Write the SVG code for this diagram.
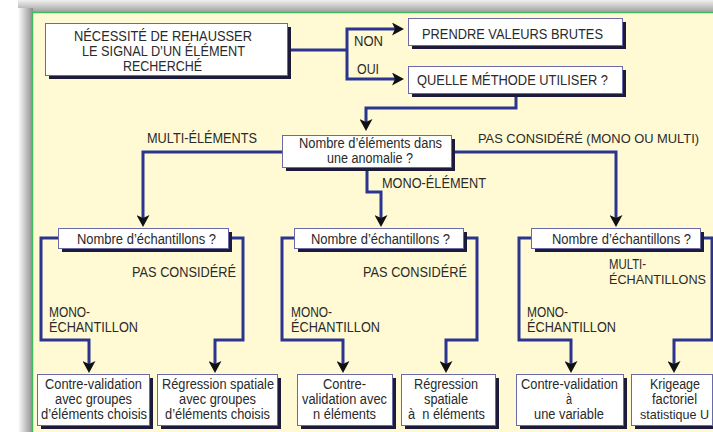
<svg xmlns="http://www.w3.org/2000/svg" width="713" height="432" viewBox="0 0 713 432">
<defs>
<linearGradient id="gl" x1="0" y1="0" x2="1" y2="0"><stop offset="0" stop-color="#ffffff"/><stop offset="1" stop-color="#8c8c8c"/></linearGradient>
<linearGradient id="gt" x1="0" y1="0" x2="0" y2="1"><stop offset="0" stop-color="#f0f0f0"/><stop offset="1" stop-color="#9a9a9a"/></linearGradient>
<marker id="ah" viewBox="0 0 12 13" refX="4" refY="6.5" markerWidth="12" markerHeight="13" markerUnits="userSpaceOnUse" orient="auto">
<path d="M0,0 L12,6.5 L0,13 L3,6.5 z" fill="#111"/>
</marker>
<style>
.t{font-family:"Liberation Sans",Arial,sans-serif;font-size:14px;fill:#2a2a2a;}
.s{fill:#1c1c3a;}
.b{fill:#fff;stroke:#6a6aaa;stroke-width:1;}
.c{fill:none;stroke:#2b3590;stroke-width:3;stroke-linejoin:miter;}
.a{marker-end:url(#ah);}
</style>
</defs>
<rect x="0" y="0" width="713" height="432" fill="#fff"/>
<rect x="18" y="0" width="695" height="13" fill="url(#gt)"/>
<rect x="18" y="8" width="15" height="424" fill="url(#gl)"/>
<rect x="32.5" y="12.5" width="690" height="430" fill="#fffad4" stroke="#3dbb5d" stroke-width="1.5"/>

<g id="connectors">
<path class="c" d="M287,50 H347"/>
<path class="c a" d="M347,50 V29 H396"/>
<path class="c a" d="M347,50 V79 H396"/>
<path class="c a" d="M516,93 V108 H366 V123"/>
<path class="c a" d="M282,152 H143 V219"/>
<path class="c a" d="M451,152 H616 V219"/>
<path class="c a" d="M367,167 V192 H381 V219"/>
<path class="c a" d="M58,238 H41 V340 H89 V365"/>
<path class="c a" d="M228,238 H243 V340 H215 V365"/>
<path class="c a" d="M294,238 H282 V340 H343 V365"/>
<path class="c a" d="M463,238 H477 V340 H446 V365"/>
<path class="c a" d="M531,238 H519 V340 H571 V365"/>
<path class="c a" d="M700,238 H712 V340 H674 V365"/>
</g>

<g id="labels">
<text class="t" x="354" y="46" textLength="29" lengthAdjust="spacingAndGlyphs">NON</text>
<text class="t" x="357" y="74" textLength="22" lengthAdjust="spacingAndGlyphs">OUI</text>
<text class="t" x="147" y="143" textLength="110" lengthAdjust="spacingAndGlyphs">MULTI-ÉLÉMENTS</text>
<text class="t" x="478" y="143" style="font-size:13.2px" textLength="221" lengthAdjust="spacingAndGlyphs">PAS CONSIDÉRÉ (MONO OU MULTI)</text>
<text class="t" x="382" y="188" textLength="104" lengthAdjust="spacingAndGlyphs">MONO-ÉLÉMENT</text>
<text class="t" x="132" y="277" textLength="104" lengthAdjust="spacingAndGlyphs">PAS CONSIDÉRÉ</text>
<text class="t" x="363" y="277" textLength="104" lengthAdjust="spacingAndGlyphs">PAS CONSIDÉRÉ</text>
<text class="t" x="49" y="317" textLength="41" lengthAdjust="spacingAndGlyphs">MONO-</text>
<text class="t" x="49" y="332" textLength="89" lengthAdjust="spacingAndGlyphs">ÉCHANTILLON</text>
<text class="t" x="291" y="317" textLength="41" lengthAdjust="spacingAndGlyphs">MONO-</text>
<text class="t" x="291" y="332" textLength="89" lengthAdjust="spacingAndGlyphs">ÉCHANTILLON</text>
<text class="t" x="527" y="317" textLength="41" lengthAdjust="spacingAndGlyphs">MONO-</text>
<text class="t" x="527" y="332" textLength="89" lengthAdjust="spacingAndGlyphs">ÉCHANTILLON</text>
<text class="t" x="609" y="269" textLength="37" lengthAdjust="spacingAndGlyphs">MULTI-</text>
<text class="t" x="609" y="284" style="font-size:13px" textLength="97" lengthAdjust="spacingAndGlyphs">ÉCHANTILLONS</text>
</g>

<g id="n-start">
<rect class="s" x="49" y="27" width="242" height="52"/>
<rect class="b" x="45.5" y="23.5" width="242" height="52"/>
<text class="t" x="74" y="41" textLength="178" lengthAdjust="spacingAndGlyphs">NÉCESSITÉ DE REHAUSSER</text>
<text class="t" x="82" y="55.5" textLength="163" lengthAdjust="spacingAndGlyphs">LE SIGNAL D’UN ÉLÉMENT</text>
<text class="t" x="123" y="70.5" textLength="79" lengthAdjust="spacingAndGlyphs">RECHERCHÉ</text>
</g>

<g id="n-brutes">
<rect class="s" x="412" y="22" width="214" height="27"/>
<rect class="b" x="408.5" y="18.5" width="214" height="27"/>
<text class="t" x="422" y="39" textLength="181" lengthAdjust="spacingAndGlyphs">PRENDRE VALEURS BRUTES</text>
</g>

<g id="n-methode">
<rect class="s" x="412" y="70" width="214" height="27"/>
<rect class="b" x="408.5" y="66.5" width="214" height="27"/>
<text class="t" x="417" y="84.5" textLength="191" lengthAdjust="spacingAndGlyphs">QUELLE MÉTHODE UTILISER ?</text>
</g>

<g id="n-elements">
<rect class="s" x="286" y="139" width="169" height="32"/>
<rect class="b" x="282.5" y="135.5" width="169" height="32"/>
<text class="t" x="299" y="148" textLength="143" lengthAdjust="spacingAndGlyphs">Nombre d’éléments dans</text>
<text class="t" x="327" y="163" textLength="86" lengthAdjust="spacingAndGlyphs">une anomalie ?</text>
</g>

<g id="n-ech-multi">
<rect class="s" x="62" y="232" width="170" height="20"/>
<rect class="b" x="58.5" y="228.5" width="170" height="20"/>
<text class="t" x="77" y="244" textLength="139" lengthAdjust="spacingAndGlyphs">Nombre d’échantillons ?</text>
</g>

<g id="n-ech-mono">
<rect class="s" x="298" y="232" width="169" height="20"/>
<rect class="b" x="294.5" y="228.5" width="169" height="20"/>
<text class="t" x="311" y="244" textLength="139" lengthAdjust="spacingAndGlyphs">Nombre d’échantillons ?</text>
</g>

<g id="n-ech-pas">
<rect class="s" x="535" y="232" width="169" height="20"/>
<rect class="b" x="531.5" y="228.5" width="169" height="20"/>
<text class="t" x="552" y="244" textLength="139" lengthAdjust="spacingAndGlyphs">Nombre d’échantillons ?</text>
</g>

<g id="n-r1">
<rect class="s" x="41" y="378" width="112" height="51"/>
<rect class="b" x="37.5" y="374.5" width="112" height="51"/>
<text class="t" x="45" y="389" textLength="97" lengthAdjust="spacingAndGlyphs">Contre-validation</text>
<text class="t" x="55" y="404" textLength="77" lengthAdjust="spacingAndGlyphs">avec groupes</text>
<text class="t" x="41" y="419" textLength="106" lengthAdjust="spacingAndGlyphs">d’éléments choisis</text>
</g>

<g id="n-r2">
<rect class="s" x="161" y="378" width="120" height="51"/>
<rect class="b" x="157.5" y="374.5" width="120" height="51"/>
<text class="t" x="162" y="389" textLength="112" lengthAdjust="spacingAndGlyphs">Régression spatiale</text>
<text class="t" x="179" y="404" textLength="77" lengthAdjust="spacingAndGlyphs">avec groupes</text>
<text class="t" x="165" y="419" textLength="105" lengthAdjust="spacingAndGlyphs">d’éléments choisis</text>
</g>

<g id="n-r3">
<rect class="s" x="301" y="378" width="95" height="51"/>
<rect class="b" x="297.5" y="374.5" width="95" height="51"/>
<text class="t" x="323" y="389" textLength="43" lengthAdjust="spacingAndGlyphs">Contre-</text>
<text class="t" x="302" y="404" textLength="85" lengthAdjust="spacingAndGlyphs">validation avec</text>
<text class="t" x="313" y="419" textLength="63" lengthAdjust="spacingAndGlyphs">n éléments</text>
</g>

<g id="n-r4">
<rect class="s" x="405" y="378" width="94" height="51"/>
<rect class="b" x="401.5" y="374.5" width="94" height="51"/>
<text class="t" x="414" y="389" textLength="64" lengthAdjust="spacingAndGlyphs">Régression</text>
<text class="t" x="424" y="404" textLength="44" lengthAdjust="spacingAndGlyphs">spatiale</text>
<text class="t" x="408" y="419" textLength="77" lengthAdjust="spacingAndGlyphs" xml:space="preserve">à  n éléments</text>
</g>

<g id="n-r5">
<rect class="s" x="520" y="378" width="107" height="51"/>
<rect class="b" x="516.5" y="374.5" width="107" height="51"/>
<text class="t" x="521" y="389" textLength="97" lengthAdjust="spacingAndGlyphs">Contre-validation</text>
<text class="t" x="566" y="404" textLength="6" lengthAdjust="spacingAndGlyphs">à</text>
<text class="t" x="534" y="419" textLength="70" lengthAdjust="spacingAndGlyphs">une variable</text>
</g>

<g id="n-r6">
<rect class="s" x="635" y="378" width="81" height="51"/>
<rect class="b" x="631.5" y="374.5" width="81" height="51"/>
<text class="t" x="650" y="389" textLength="50" lengthAdjust="spacingAndGlyphs">Krigeage</text>
<text class="t" x="652" y="404" textLength="45" lengthAdjust="spacingAndGlyphs">factoriel</text>
<text class="t" x="640" y="419" style="font-size:12.8px" textLength="69" lengthAdjust="spacingAndGlyphs">statistique U</text>
</g>
</svg>
